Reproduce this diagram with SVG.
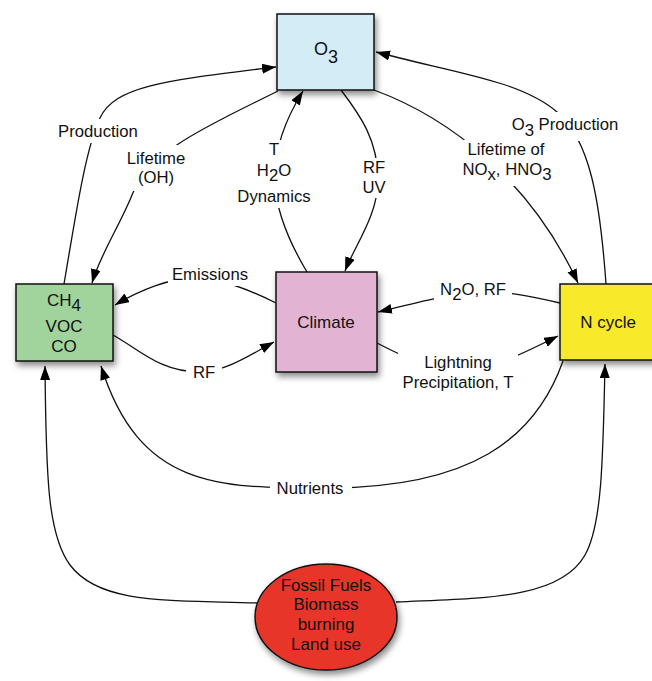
<svg xmlns="http://www.w3.org/2000/svg" width="652" height="681" viewBox="0 0 652 681">
<defs>
<filter id="sh" x="-20%" y="-20%" width="150%" height="150%">
<feDropShadow dx="2" dy="4" stdDeviation="3" flood-color="#000" flood-opacity="0.45"/>
</filter>
<marker id="ah" markerUnits="userSpaceOnUse" markerWidth="16" markerHeight="12" refX="14" refY="5" orient="auto">
<path d="M0,0 L14,5 L0,10 z" fill="#000"/>
</marker>
</defs>
<style>
.node{stroke:#111;stroke-width:1.5;filter:url(#sh)}
.t{font-family:"Liberation Sans",Arial,Helvetica,sans-serif;font-size:16.7px;fill:#111;text-anchor:middle}
.nt{font-family:"Liberation Sans",Arial,Helvetica,sans-serif;font-size:17px;fill:#111;text-anchor:middle}
.c{fill:none;stroke:#111;stroke-width:1.3;marker-end:url(#ah)}
.bg{fill:#fff}
</style>
<rect width="652" height="681" fill="#fff"/>
<g id="connectors">
<path class="c" d="M64,284 C75,220 85,150 100,118 C115,85 170,80 276,67"/>
<path class="c" d="M278,91 C210,125 150,150 132,195 C120,225 100,255 92,283"/>
<path class="c" d="M307,272 C270,210 260,160 303,91"/>
<path class="c" d="M341,90 C360,115 378,140 378,180 C378,215 355,245 345,271"/>
<path class="c" d="M374,90 C450,118 530,180 578,283"/>
<path class="c" d="M606,284 C600,200 590,140 557,112 C520,80 450,72 376,52"/>
<path class="c" d="M276,303 C250,290 220,278 195,278 C170,278 140,290 115,305"/>
<path class="c" d="M113,335 C140,350 160,372 200,372 C225,372 250,355 274,342"/>
<path class="c" d="M560,303 C530,296 500,290 475,292 C450,294 420,302 378,312"/>
<path class="c" d="M377,343 C400,355 430,370 460,370 C490,370 520,355 558,336"/>
<path class="c" d="M563,361 C535,440 470,487 330,488 C220,488 140,490 101,366"/>
<path class="c" d="M258,603 C170,600 100,605 70,565 C48,535 46,480 45,366"/>
<path class="c" d="M396,602 C480,598 560,600 585,555 C602,525 603,460 605,364"/>
</g>
<g id="labels">
<rect class="bg" x="54" y="119" width="90" height="24"/>
<text class="t" x="98" y="137">Production</text>
<rect class="bg" x="122" y="145" width="68" height="46"/>
<text class="t" x="156" y="164">Lifetime</text>
<text class="t" x="156" y="183">(OH)</text>
<rect class="bg" x="236" y="140" width="78" height="68"/>
<text class="t" x="274" y="155">T</text>
<text class="t" x="274" y="176">H<tspan dy="5">2</tspan><tspan dy="-5">O</tspan></text>
<text class="t" x="274" y="202">Dynamics</text>
<rect class="bg" x="358" y="158" width="32" height="40"/>
<text class="t" x="374" y="173">RF</text>
<text class="t" x="374" y="193">UV</text>
<rect class="bg" x="458" y="140" width="98" height="46"/>
<text class="t" x="506" y="155">Lifetime of</text>
<text class="t" x="507" y="175">NO<tspan dy="5">x</tspan><tspan dy="-5">, HNO</tspan><tspan dy="5">3</tspan></text>
<rect class="bg" x="506" y="112" width="117" height="29"/>
<text class="t" x="565" y="130">O<tspan dy="6">3</tspan><tspan dy="-6"> Production</tspan></text>
<rect class="bg" x="168" y="264" width="84" height="22"/>
<text class="t" x="210" y="280">Emissions</text>
<rect class="bg" x="434" y="280" width="78" height="25"/>
<text class="t" x="473" y="295">N<tspan dy="5">2</tspan><tspan dy="-5">O, RF</tspan></text>
<rect class="bg" x="186" y="362" width="36" height="22"/>
<text class="t" x="204" y="378">RF</text>
<rect class="bg" x="398" y="353" width="120" height="42"/>
<text class="t" x="458" y="368">Lightning</text>
<text class="t" x="458" y="388">Precipitation, T</text>
<rect class="bg" x="270" y="478" width="82" height="22"/>
<text class="t" x="310" y="494">Nutrients</text>
</g>
<g id="o3">
<rect class="node" x="277" y="14" width="97" height="76" fill="#d4ecf6"/>
<text class="nt" x="326" y="55" style="font-size:18px">O<tspan dy="8">3</tspan></text>
</g>
<g id="ch4">
<rect class="node" x="16" y="284" width="97" height="77" fill="#a0d49c"/>
<text class="nt" x="64" y="306">CH<tspan dy="5">4</tspan></text>
<text class="nt" x="64" y="332">VOC</text>
<text class="nt" x="64" y="352">CO</text>
</g>
<g id="climate">
<rect class="node" x="276" y="272" width="101" height="100" fill="#e3b3d3"/>
<text class="nt" x="326" y="328">Climate</text>
</g>
<g id="ncycle">
<rect class="node" x="560" y="284" width="97" height="76" fill="#f8ea2a"/>
<text class="nt" x="608" y="328">N cycle</text>
</g>
<g id="sources">
<ellipse class="node" cx="326" cy="617" rx="71" ry="53" fill="#e8352a"/>
<text class="nt" x="326" y="591">Fossil Fuels</text>
<text class="nt" x="326" y="610">Biomass</text>
<text class="nt" x="326" y="630">burning</text>
<text class="nt" x="326" y="650">Land use</text>
</g>
</svg>
